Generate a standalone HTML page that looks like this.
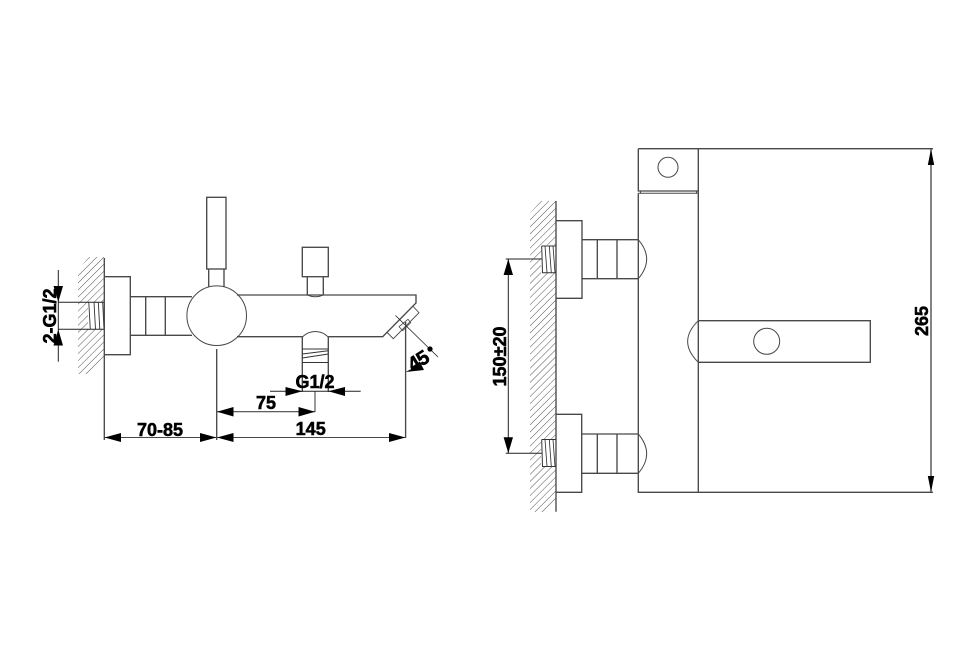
<!DOCTYPE html>
<html>
<head>
<meta charset="utf-8">
<style>
html,body{margin:0;padding:0;background:#fff;}
svg{display:block;}
text{font-family:"Liberation Sans",Arial,sans-serif;font-weight:bold;font-size:18px;fill:#000;stroke:#000;stroke-width:0.55;text-anchor:middle;}
</style>
</head>
<body>
<svg width="975" height="660" viewBox="0 0 975 660" xmlns="http://www.w3.org/2000/svg">
<defs>
<pattern id="h" width="5" height="10" patternUnits="userSpaceOnUse" patternTransform="rotate(45)">
<line x1="0" y1="0" x2="0" y2="10" stroke="#333" stroke-width="0.85"/>
</pattern>
</defs>
<rect width="975" height="660" fill="#fff"/>

<!-- wall hatching -->
<polygon points="78,270 89,257 104,257 104,362 92,374 78,374" fill="url(#h)"/>
<polygon points="530,213 541,201 556,201 556,500 545,512 530,512" fill="url(#h)"/>
<rect x="88" y="302" width="16" height="27" fill="#fff"/>
<rect x="541" y="245" width="15" height="28" fill="#fff"/>
<rect x="541" y="439" width="15" height="28" fill="#fff"/>

<g fill="none" stroke="#484848" stroke-width="1.35">
<!-- LEFT VIEW -->
<path d="M104.3 258V440"/>
<path d="M104.3 276.7H130.3V354.7H104.3"/>
<path d="M130.3 296.7H192M130.3 335.3H192M145.7 296.7V335.3M165.3 296.7V335.3"/>
<circle cx="216.7" cy="315.7" r="29.8" stroke-width="1"/>
<rect x="206.7" y="197.3" width="19.3" height="71.7"/>
<path d="M208.7 269V287M224 269V287"/>
<path d="M237 295H416V303L382.7 336.7H328.3M302.3 336.7H237"/>
<rect x="302.3" y="247.3" width="26" height="29.4"/>
<path d="M307.3 276.7V295M323.3 276.7V295"/>
<path d="M307.3 295Q315.3 298.5 323.3 295" stroke-width="1"/>
<path d="M302.3 337Q308 331.5 315.3 331.5Q322.6 331.5 328.3 337" stroke-width="1.1"/>
<path d="M302.3 337V392M328.3 337V392"/>
<path d="M302.3 349H328.3M302.3 354L328.3 350.7M302.3 358L328.3 354M302.3 362.5H328.3" stroke="#333" stroke-width="1"/>
<path d="M412.7 306L419 312.7L393.3 338.7L386.7 332" stroke-width="0.9"/>
<path d="M408 319.3L410.7 322.7L402.7 330.7L399 326.7Z" stroke-width="0.8"/>
<path d="M395.5 315.5L438 357" stroke="#222" stroke-width="0.8"/>
<path d="M405.6 322V438"/>
<!-- left thread -->
<path d="M58 302.3H104M58 329.3H104" stroke="#222" stroke-width="1"/>
<path d="M88.8 302.3L90.3 329.3M94 302.3L95.5 329.3M98.3 302.3L99.8 329.3M102.7 302.3L104 329.3" stroke="#333" stroke-width="0.9"/>
<!-- left dims -->
<path d="M58.3 270V361.7" stroke="#222" stroke-width="1"/>
<path d="M216.7 349V440"/>
<path d="M104.3 437.5H405.6" stroke-width="1.1"/>
<path d="M217 411.7H315M315 391V412" stroke-width="1.1"/>
<path d="M270 391.3H360.7" stroke="#222" stroke-width="1"/>

<!-- RIGHT VIEW -->
<path d="M556 201V511.7"/>
<path d="M556 220.7H582V298.3H556"/>
<path d="M582 239.7H638.3M582 278.7H638.3M597.3 239.7V278.7M617 239.7V278.7"/>
<path d="M638.3 239.7Q655 259 638.3 278.7" stroke-width="1"/>
<path d="M556 414.3H581.7V492.3H556"/>
<path d="M582 434H638.3M582 473.3H638.3M597.3 434V473.3M617 434V473.3"/>
<path d="M638.3 434Q655 453.7 638.3 473.3" stroke-width="1"/>
<path d="M638.3 193.3V492.3H933"/>
<path d="M698.3 148.7V492.3"/>
<path d="M638.3 148.7H933M638.3 148.7V191H698.3"/>
<path d="M638.3 193.3H698.3M640.5 191V193.3M696.5 191V193.3" stroke-width="1"/>
<circle cx="668" cy="167.3" r="10" stroke-width="1"/>
<path d="M698.3 320.7H870.3V362.3H698.3"/>
<path d="M698.3 320.7Q677 341.5 698.3 362.3" stroke-width="1"/>
<circle cx="766.7" cy="341.3" r="13" stroke-width="1"/>
<path d="M931 149V492"/>
<!-- right threads -->
<path d="M541.7 246H556M542 272.7H556M541.7 246L542.5 272.7" stroke="#333" stroke-width="1"/>
<path d="M545 246L547 272.7M549.3 246L551.3 272.7M553 246L555 272.7" stroke="#333" stroke-width="0.85"/>
<path d="M541.7 439.5H556M542 466.5H556M541.7 439.5L542.5 466.5" stroke="#333" stroke-width="1"/>
<path d="M545 439.5L547 466.5M549.3 439.5L551.3 466.5M553 439.5L555 466.5" stroke="#333" stroke-width="0.85"/>
<path d="M505.7 259H541.7M505.7 453.3H541.7M508.3 259V453.3" stroke="#222" stroke-width="1"/>
</g>

<!-- arrowheads -->
<g fill="#000" stroke="none">
<path d="M58.3 302L53.5 286H63Z"/>
<path d="M58.3 329.5L53.5 345.5H63Z"/>
<path d="M104.5 437.5L121 433V442Z"/>
<path d="M216.5 437.5L200 433V442Z"/>
<path d="M217 437.5L233.5 433V442Z"/>
<path d="M405.5 437.5L389 433V442Z"/>
<path d="M217 411.7L233.5 407V416.5Z"/>
<path d="M315 411.7L298.5 407V416.5Z"/>
<path d="M302.3 391.3L285.5 387V396Z"/>
<path d="M328.3 391.3L345 387V396Z"/>
<path d="M405.6 372L421 364L424 370Z"/>
<path d="M508.3 259L503.6 275H513Z"/>
<path d="M508.3 453.3L503.6 437.3H513Z"/>
<path d="M931 149L927.8 165H934.2Z"/>
<path d="M931 492L927.8 476H934.2Z"/>
</g>

<!-- labels -->
<text x="160" y="436">70-85</text>
<text x="266" y="409">75</text>
<text x="310.7" y="435">145</text>
<text x="315" y="388">G1/2</text>
<text transform="translate(56 316) rotate(-90)">2-G1/2</text>
<text transform="translate(506 356.5) rotate(-90)">150±20</text>
<text transform="translate(928 321) rotate(-90)">265</text>
<text transform="translate(413 372) rotate(-32)" style="text-anchor:start;font-size:20px;letter-spacing:-1px">45</text>
<circle cx="430" cy="349" r="2" fill="#000" stroke="#000" stroke-width="1.2"/>
</svg>
</body>
</html>
